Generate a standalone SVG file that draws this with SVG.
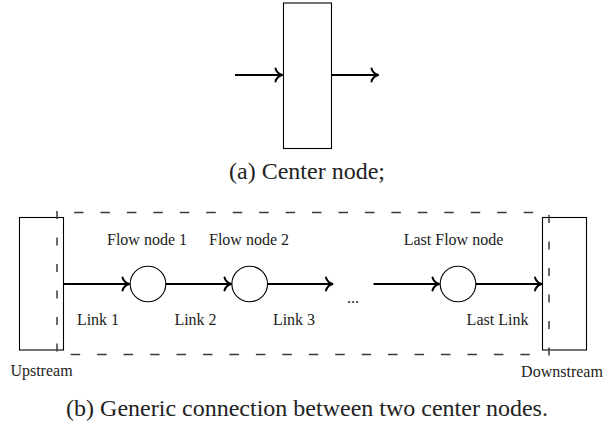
<svg xmlns="http://www.w3.org/2000/svg" width="606" height="423" viewBox="0 0 606 423" font-family="'Liberation Serif', 'DejaVu Serif', serif">
<style>
  text { font-family: 'Liberation Serif', 'DejaVu Serif', serif; fill: #222; }
  .lbl { font-size: 16px; text-anchor: middle; }
  .cap { font-size: 24px; text-anchor: middle; }
  .box { fill: #fff; stroke: #000; stroke-width: 1.1; }
  .arr { fill: none; stroke: #000; stroke-width: 2.2; marker-end: url(#ah); }
  .dash { fill: none; stroke: #3a3a3a; stroke-width: 1.5; stroke-dasharray: 9.5 16.95; }
  .vdash { fill: none; stroke: #3a3a3a; stroke-width: 1.5; stroke-dasharray: 8 18.5; }
</style>
<defs>
  <marker id="ah" markerUnits="userSpaceOnUse" markerWidth="14" markerHeight="16" viewBox="-9 -8 10 16" refX="0" refY="0" orient="auto">
    <path d="M-7,-6.5 C-6,-2.7 -2.7,-0.6 0,0 C-2.7,0.6 -6,2.7 -7,6.5" fill="none" stroke="#000" stroke-width="2" stroke-linecap="round"/>
  </marker>
</defs>

<g id="center-node">
  <rect class="box" x="283.5" y="3" width="48" height="145.5"/>
</g>
<g id="center-connectors">
  <line class="arr" x1="235" y1="75" x2="282.5" y2="75"/>
  <line class="arr" x1="332" y1="75" x2="378.5" y2="75"/>
</g>
<text class="cap" x="307" y="179">(a) Center node;</text>

<g id="upstream">
  <rect class="box" x="19.5" y="217.5" width="44" height="132.5"/>
  <text class="lbl" x="41.5" y="376">Upstream</text>
</g>
<g id="downstream">
  <rect class="box" x="542.5" y="217.5" width="44" height="132.5"/>
  <text class="lbl" x="562" y="377">Downstream</text>
</g>

<g id="boundary">
  <line class="dash" x1="74" y1="212.5" x2="540" y2="212.5"/>
  <line class="dash" x1="70.7" y1="354.5" x2="540" y2="354.5"/>
  <line class="vdash" x1="57" y1="211" x2="57" y2="360"/>
  <line class="vdash" x1="549" y1="215" x2="549" y2="360"/>
</g>

<g id="flow-node-1">
  <circle class="box" cx="148" cy="284" r="17.8"/>
  <text class="lbl" x="147" y="245">Flow node 1</text>
</g>
<g id="flow-node-2">
  <circle class="box" cx="249.7" cy="284" r="17.8"/>
  <text class="lbl" x="249" y="245">Flow node 2</text>
</g>
<g id="last-flow-node">
  <circle class="box" cx="458" cy="284" r="17.8"/>
  <text class="lbl" x="453.5" y="245">Last Flow node</text>
</g>

<g id="connectors">
  <line class="arr" x1="63.5" y1="284" x2="129.5" y2="284"/>
  <line class="arr" x1="166" y1="284" x2="231.5" y2="284"/>
  <line class="arr" x1="267.5" y1="284" x2="333" y2="284"/>
  <line class="arr" x1="373.5" y1="284" x2="439.5" y2="284"/>
  <line class="arr" x1="476" y1="284" x2="542" y2="284"/>
</g>

<g id="link-labels">
  <text class="lbl" x="98" y="325">Link 1</text>
  <text class="lbl" x="195.5" y="325">Link 2</text>
  <text class="lbl" x="294" y="325">Link 3</text>
  <text class="lbl" x="353" y="303">...</text>
  <text class="lbl" x="497.5" y="325">Last Link</text>
</g>

<text class="cap" x="307" y="416">(b) Generic connection between two center nodes.</text>
</svg>
